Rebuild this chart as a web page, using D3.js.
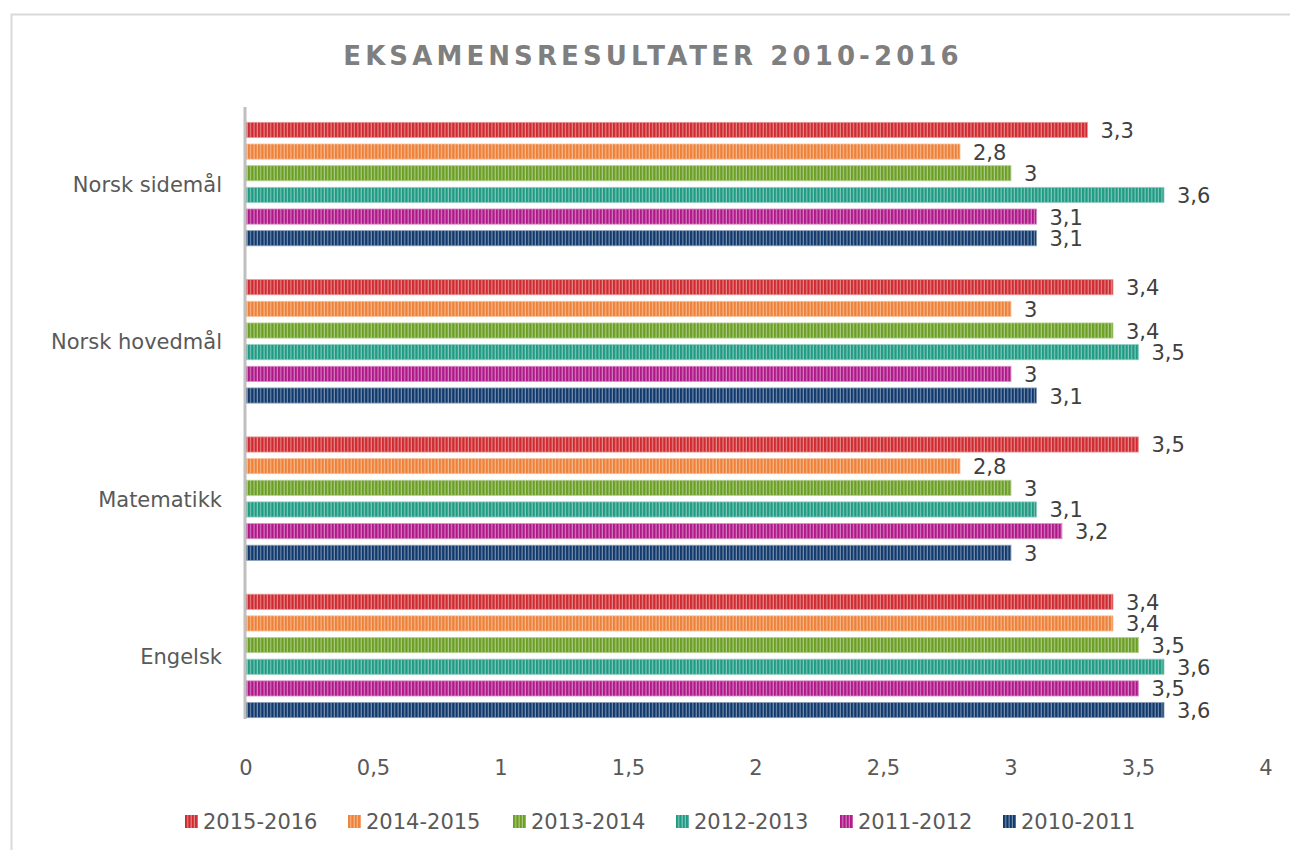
<!DOCTYPE html>
<html>
<head>
<meta charset="utf-8">
<script src="https://cdn.jsdelivr.net/npm/d3@7"></script>
<style>
  body { margin: 0; background: #fff; }
  svg text { font-family: "DejaVu Sans", sans-serif; }
</style>
</head>
<body>
<div id="chart"></div>
<script>
// data
const subjects = ['Norsk sidemål', 'Norsk hovedmål', 'Matematikk', 'Engelsk'];
const years = ['2015-2016', '2014-2015', '2013-2014', '2012-2013', '2011-2012', '2010-2011'];
const v2015_2016 = [3.3, 3.4, 3.5, 3.4];
const v2014_2015 = [2.8, 3.0, 2.8, 3.4];
const v2013_2014 = [3.0, 3.4, 3.0, 3.5];
const v2012_2013 = [3.6, 3.5, 3.1, 3.6];
const v2011_2012 = [3.1, 3.0, 3.2, 3.5];
const v2010_2011 = [3.1, 3.1, 3.0, 3.6];
const seriesValues = [v2015_2016, v2014_2015, v2013_2014, v2012_2013, v2011_2012, v2010_2011];
const xTicks = [0, 0.5, 1, 1.5, 2, 2.5, 3, 3.5, 4];
const seriesColors = ['#cf2a2f', '#ee8138', '#6b9f24', '#1f9b84', '#b0188a', '#0f386c'];

const width = 1290, height = 850;
const fmt = d => String(d).replace('.', ',');

const svg = d3.select('#chart').append('svg')
    .attr('width', width)
    .attr('height', height);

// chart frame (only top and left visible)
svg.append('path')
    .attr('d', `M11.5,${height} L11.5,14.5 L${width},14.5`)
    .attr('fill', 'none')
    .attr('stroke', '#d9d9d9')
    .attr('stroke-width', 2);

// stripe patterns
const defs = svg.append('defs');
seriesColors.forEach((c, i) => {
    const p = defs.append('pattern')
        .attr('id', `stripe-${i}`)
        .attr('patternUnits', 'userSpaceOnUse')
        .attr('width', 3.35)
        .attr('height', 10);
    p.append('rect').attr('width', 3.35).attr('height', 10)
        .attr('fill', d3.interpolateRgb(c, '#ffffff')(0.45));
    p.append('rect').attr('width', 2.2).attr('height', 10).attr('fill', c);
});

const x = d3.scaleLinear().domain([0, 4]).range([246, 1266]);
const y0 = d3.scaleBand().domain(subjects).range([107, 733]).paddingInner(0.215).paddingOuter(0.0975);
const y1 = d3.scaleBand().domain(years).range([0, y0.bandwidth()]).paddingInner(0.3).paddingOuter(0);

const data = [];
subjects.forEach((s, si) => {
    years.forEach((yr, yi) => {
        data.push({ subject: s, year: yr, yi: yi, value: seriesValues[yi][si] });
    });
});

// bars
svg.append('g').selectAll('rect')
    .data(data)
    .join('rect')
    .attr('x', x(0))
    .attr('y', d => y0(d.subject) + y1(d.year))
    .attr('width', d => x(d.value) - x(0))
    .attr('height', y1.bandwidth())
    .attr('fill', d => `url(#stripe-${d.yi})`)
    .attr('stroke', d => d3.interpolateRgb(seriesColors[d.yi], '#ffffff')(0.5))
    .attr('stroke-width', 0.8);

// value labels
svg.append('g').selectAll('text')
    .data(data)
    .join('text')
    .attr('x', d => x(d.value) + 13)
    .attr('y', d => y0(d.subject) + y1(d.year) + y1.bandwidth() / 2 + 8)
    .attr('font-size', 21)
    .attr('fill', '#404040')
    .text(d => fmt(d.value));

// y axis line
svg.append('line')
    .attr('x1', x(0) - 1).attr('x2', x(0) - 1)
    .attr('y1', 107).attr('y2', 719)
    .attr('stroke', '#bfbfbf')
    .attr('stroke-width', 3);

// category labels
svg.append('g').selectAll('text')
    .data(subjects)
    .join('text')
    .attr('x', 222)
    .attr('y', d => y0(d) + y0.bandwidth() / 2 + 8)
    .attr('text-anchor', 'end')
    .attr('font-size', 21)
    .attr('fill', '#595959')
    .text(d => d);

// x tick labels
svg.append('g').selectAll('text')
    .data(xTicks)
    .join('text')
    .attr('x', d => x(d))
    .attr('y', 775)
    .attr('text-anchor', 'middle')
    .attr('font-size', 21)
    .attr('fill', '#595959')
    .text(d => fmt(d));

// title
svg.append('text')
    .attr('x', 653)
    .attr('y', 65)
    .attr('text-anchor', 'middle')
    .attr('font-size', 26)
    .attr('font-weight', 'bold')
    .attr('letter-spacing', 4.1)
    .attr('fill', '#7f7f7f')
    .text('EKSAMENSRESULTATER 2010-2016');

// legend
const legendX = [185, 348, 513, 676, 840, 1003];
const legend = svg.append('g').selectAll('g')
    .data(years)
    .join('g')
    .attr('transform', (d, i) => `translate(${legendX[i]}, 815)`);

legend.append('rect')
    .attr('width', 13)
    .attr('height', 13)
    .attr('fill', (d, i) => `url(#stripe-${i})`);

legend.append('text')
    .attr('x', 18)
    .attr('y', 14)
    .attr('font-size', 21)
    .attr('fill', '#595959')
    .text(d => d);
</script>
</body>
</html>
